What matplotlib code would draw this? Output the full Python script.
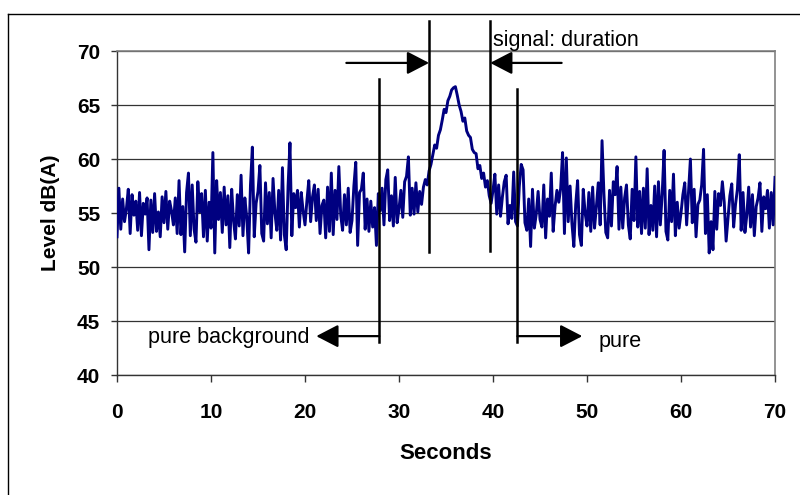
import numpy as np
import matplotlib
matplotlib.use('Agg')
import matplotlib.pyplot as plt
from matplotlib.lines import Line2D

# sound level, one reading every 0.2 s from 0 to 70 s
STEP = 0.2
level = [
    52.8, 57.3, 53.5, 56.3, 54.2,
    55.4, 57.2, 53.1, 56.7, 54.8,
    56.1, 53.4, 56.9, 52.9, 55.9,
    54.9, 56.4, 51.6, 56.2, 53.2,
    56.8, 53.3, 55.1, 52.8, 56.5,
    54.1, 57.0, 53.5, 56.1, 55.2,
    53.9, 56.4, 53.1, 58.0, 53.0,
    55.6, 51.4, 56.9, 58.7, 52.9,
    57.6, 53.5, 52.3, 57.9, 55.1,
    56.8, 52.8, 57.1, 52.4, 56.0,
    53.6, 60.6, 51.3, 58.0, 54.4,
    56.9, 53.2, 57.4, 53.9, 56.6,
    51.8, 57.2, 54.3, 52.6, 56.7,
    53.8, 58.5, 52.9, 56.4, 54.6,
    51.3, 57.6, 61.1, 52.8, 55.9,
    57.0, 59.4, 53.1, 52.4, 57.8,
    54.0, 56.9, 52.7, 58.2, 55.0,
    53.4, 57.1, 52.5, 59.2, 53.0,
    51.6, 57.5, 61.5, 52.9, 56.8,
    55.5, 57.1, 53.7, 56.9, 55.2,
    53.9, 56.1, 58.0, 54.2, 56.5,
    57.6, 54.3, 57.2, 53.1, 55.7,
    56.2, 52.7, 57.4, 53.3, 58.7,
    53.0, 57.1, 54.4, 59.3, 54.8,
    53.4, 56.7, 53.9, 57.3, 53.2,
    54.3, 57.5, 59.7, 52.0, 56.9,
    57.2, 58.7, 53.5, 56.3, 53.3,
    56.1, 53.7, 55.5, 52.0, 56.8,
    55.2, 57.3, 53.9, 58.1, 59.0,
    54.3, 56.6, 53.8, 58.3, 54.1,
    55.4, 57.1, 54.6, 57.9, 58.4,
    60.2, 54.8, 57.3, 54.9, 57.8,
    55.1, 57.0, 55.8, 57.4, 58.1,
    57.6, 58.9, 59.5, 60.4, 61.3,
    61.0, 62.2, 62.7, 63.6, 64.6,
    64.3, 65.4, 65.8, 66.4, 66.6,
    66.7, 65.9, 65.0, 64.4, 63.5,
    63.8, 62.6, 62.2, 62.0, 60.9,
    60.6, 60.5, 59.1, 59.4, 58.2,
    58.7, 57.4, 58.0, 56.6, 55.9,
    57.1, 58.6, 54.9, 57.6, 54.7,
    56.5, 57.9, 58.5, 54.0, 55.7,
    54.5, 58.8, 54.2, 53.8, 57.5,
    59.5, 59.0, 54.1, 53.4, 56.3,
    51.9, 57.2, 53.6, 54.9, 57.0,
    54.4, 53.7, 57.6, 52.7, 56.3,
    54.7, 58.7, 53.3, 55.6, 57.1,
    56.0, 57.3, 60.6, 53.1, 60.1,
    54.2, 57.5, 54.0, 51.9, 55.8,
    58.0, 53.0, 52.0, 57.2, 55.0,
    53.8, 56.9, 53.3, 57.4, 53.6,
    55.6, 57.8, 53.9, 61.7, 56.8,
    53.2, 52.7, 57.1, 53.8, 57.9,
    56.7, 59.3, 53.5, 57.4, 53.6,
    56.4, 57.6, 53.9, 52.6, 57.2,
    54.3, 60.2, 53.7, 57.0, 53.1,
    57.3, 53.6, 59.1, 53.0, 55.7,
    53.4, 57.5, 52.8, 57.9, 53.9,
    56.8, 60.8, 53.3, 52.5, 57.1,
    54.2, 58.6, 52.9, 56.0, 53.6,
    55.0, 56.7, 57.8, 53.9, 56.9,
    60.0, 54.1, 57.2, 52.8, 55.8,
    56.2, 57.6, 60.9, 53.1, 56.7,
    51.3, 54.2, 51.6, 57.0, 53.5,
    56.8, 55.7, 57.9, 56.0, 52.4,
    54.5, 56.6, 57.7, 53.7, 55.8,
    57.2, 60.4, 53.4, 56.9, 53.2,
    54.8, 57.4, 53.7, 56.7, 52.9,
    55.6, 56.4, 57.8, 53.3, 56.5,
    55.4, 57.1, 53.6, 56.9, 53.9,
    58.3,
]
seconds = np.arange(len(level)) * STEP

# window markers (s)
signal_start, signal_end = 33.2, 39.7
background_end, background_start = 27.9, 42.6
yticks = [40, 45, 50, 55, 60, 65, 70]
xticks = [0, 10, 20, 30, 40, 50, 60, 70]

plt.rcParams['font.family'] = ['Liberation Sans', 'DejaVu Sans']

fig = plt.figure(figsize=(8, 4.95), dpi=100)
ax = fig.add_axes([0.14625, 0.2424, 0.8225, 0.6545])

ax.plot(seconds, level, color='#000080', lw=2.1, zorder=3)

ax.set_xlim(0, 70)
ax.set_ylim(40, 70)
ax.set_xticks(xticks)
ax.set_yticks(yticks)
ax.yaxis.grid(True, color='#333333', lw=0.9, zorder=0)
ax.set_axisbelow(True)

for side in ['top', 'right']:
    ax.spines[side].set_color('#808080')
    ax.spines[side].set_linewidth(1.2)
for side in ['left', 'bottom']:
    ax.spines[side].set_color('#333333')
    ax.spines[side].set_linewidth(1.0)

ax.tick_params(axis='y', direction='out', length=4, width=1, color='#333333', pad=8,
               labelsize=15)
ax.tick_params(axis='x', direction='out', length=5, width=1, color='#333333', pad=15,
               labelsize=15)
for lab in ax.get_xticklabels() + ax.get_yticklabels():
    lab.set_fontweight('bold')

ax.set_xlabel('Seconds', fontsize=16, fontweight='bold')
ax.set_ylabel('Level dB(A)', fontsize=15, fontweight='bold')
ax.xaxis.set_label_coords(0.5, -0.21)
ax.yaxis.set_label_coords(-0.087, 0.5)

# marker lines, drawn past the plot area
marker_kw = dict(color='black', lw=1.8, clip_on=False, zorder=4)
ax.plot([signal_start, signal_start], [72.8, 51.4], **marker_kw)
ax.plot([signal_end, signal_end], [72.8, 51.5], **marker_kw)
ax.plot([background_end, background_end], [67.4, 43.1], **marker_kw)
ax.plot([background_start, background_start], [66.5, 43.1], **marker_kw)

arrow_kw = dict(arrowstyle='-|>,head_length=1.35,head_width=0.7', color='black',
                lw=1.6, shrinkA=0, shrinkB=0)


def arrow(x0, x1, y):
    ax.annotate('', xy=(x1, y), xytext=(x0, y), arrowprops=arrow_kw,
                annotation_clip=False, zorder=5)


arrow(24.4, signal_start, 68.9)
arrow(47.3, signal_end, 68.9)
arrow(background_end, 21.2, 43.6)
arrow(background_start, 49.5, 43.6)

ax.text(40.0, 70.45, 'signal: duration', fontsize=15.5, ha='left', va='baseline')
ax.text(20.5, 43.0, 'pure background', fontsize=15.5, ha='right', va='baseline')
ax.text(51.2, 42.6, 'pure', fontsize=15.5, ha='left', va='baseline')

# outer chart frame
fig.add_artist(Line2D([0.01, 0.01], [0.0, 0.972], color='black', lw=1.0))
fig.add_artist(Line2D([0.01, 1.0], [0.972, 0.972], color='black', lw=1.0))

fig.savefig('out.png', dpi=100)
